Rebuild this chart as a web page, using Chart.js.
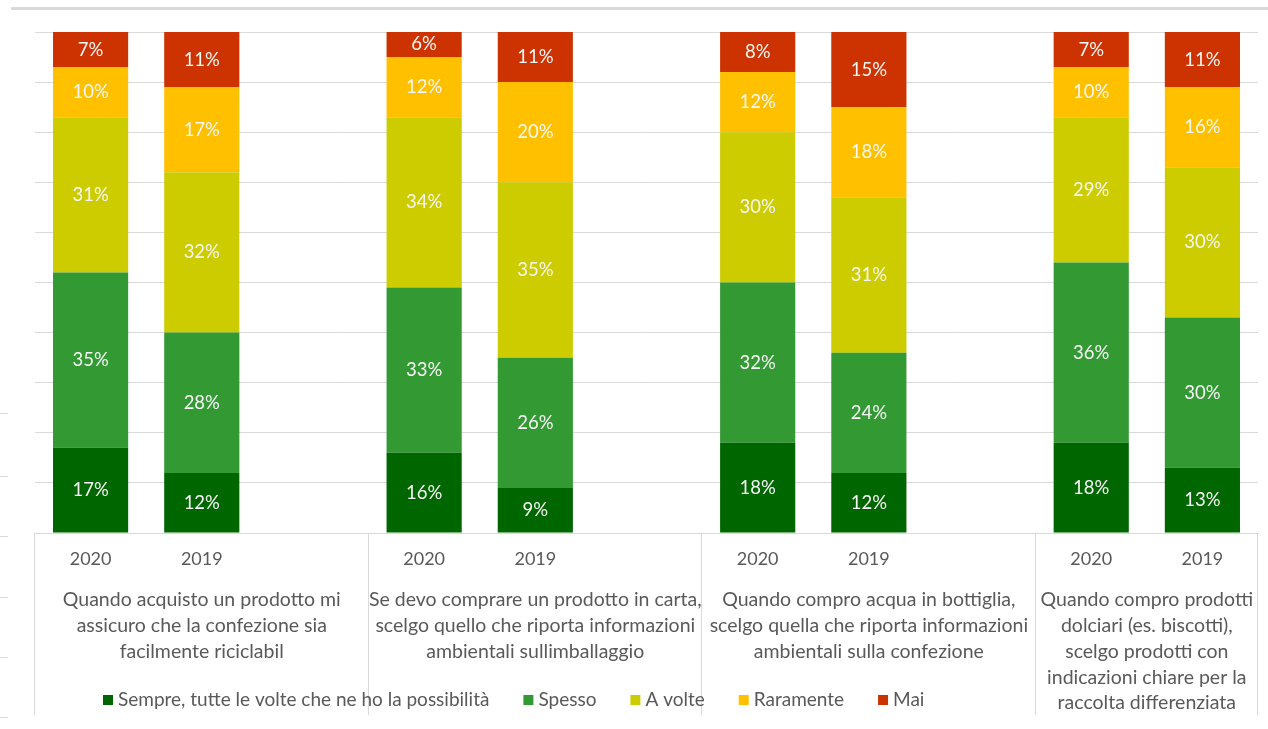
<!DOCTYPE html>
<html>
<head>
<meta charset="utf-8">
<script src="https://cdn.jsdelivr.net/npm/chart.js@4.4.0/dist/chart.umd.min.js"></script>
<style>
  html, body { margin: 0; padding: 0; background: #fff; overflow: hidden; }
  canvas { display: block; }
</style>
</head>
<body>
<canvas id="barChart" width="1268" height="729"></canvas>
<script>
// categorie (anno per ogni colonna, vuoto = spazio tra i gruppi)
const categories = ['2020', '2019', '', '2020', '2019', '', '2020', '2019', '', '2020', '2019'];

const groupLabels = [
  ['Quando acquisto un prodotto mi', 'assicuro che la confezione sia', 'facilmente riciclabil'],
  ['Se devo comprare un prodotto in carta,', 'scelgo quello che riporta informazioni', 'ambientali sullimballaggio'],
  ['Quando compro acqua in bottiglia,', 'scelgo quella che riporta informazioni', 'ambientali sulla confezione'],
  ['Quando compro prodotti', 'dolciari (es. biscotti),', 'scelgo prodotti con', 'indicazioni chiare per la', 'raccolta differenziata']
];

const seriesNames = ['Sempre, tutte le volte che ne ho la possibilità', 'Spesso', 'A volte', 'Raramente', 'Mai'];
const sempre    = [17, 12, null, 16,  9, null, 18, 12, null, 18, 13];
const spesso    = [35, 28, null, 33, 26, null, 32, 24, null, 36, 30];
const aVolte    = [31, 32, null, 34, 35, null, 30, 31, null, 29, 30];
const raramente = [10, 17, null, 12, 20, null, 12, 18, null, 10, 16];
const mai       = [ 7, 11, null,  6, 11, null,  8, 15, null,  7, 11];

const colors = ['#006600', '#339933', '#cccc00', '#ffc000', '#cc3300'];
const FONT = 'Lato, "Open Sans", sans-serif';
const GRID = '#d9d9d9';
const TEXT = '#595959';

const datasets = [sempre, spesso, aVolte, raramente, mai].map((d, i) => ({
  label: seriesNames[i],
  data: d,
  backgroundColor: colors[i],
  borderWidth: 0,
  barPercentage: 0.676,
  categoryPercentage: 1
}));

// percentuali dentro i segmenti
const valueLabels = {
  id: 'valueLabels',
  afterDatasetsDraw(chart) {
    const ctx = chart.ctx;
    const area = chart.chartArea;
    ctx.save();
    ctx.font = '18.5px ' + FONT;
    ctx.fillStyle = '#f7f7f7';
    ctx.textAlign = 'center';
    ctx.textBaseline = 'middle';
    chart.data.datasets.forEach((ds, i) => {
      chart.getDatasetMeta(i).data.forEach((bar, j) => {
        const v = ds.data[j];
        if (v == null) return;
        const top = Math.max(bar.y, area.top);
        const bottom = Math.min(bar.base, area.bottom);
        ctx.fillText(v + '%', bar.x, (top + bottom) / 2);
      });
    });
    ctx.restore();
  }
};

// etichette dei gruppi, separatori e legenda
const groupAxis = {
  id: 'groupAxis',
  beforeDraw(chart) {
    const ctx = chart.ctx;
    ctx.save();
    ctx.strokeStyle = GRID;
    ctx.lineWidth = 3;
    ctx.beginPath();
    ctx.moveTo(11, 8.5);
    ctx.lineTo(1268, 8.5);
    ctx.stroke();
    ctx.lineWidth = 1;
    [413, 476, 536, 597, 657, 717].forEach(y => {
      ctx.beginPath();
      ctx.moveTo(0, y + 0.5);
      ctx.lineTo(8, y + 0.5);
      ctx.stroke();
    });
    ctx.restore();
  },
  afterDraw(chart) {
    const ctx = chart.ctx;
    const x = chart.scales.x;
    const area = chart.chartArea;
    const slot = x.getPixelForValue(1) - x.getPixelForValue(0);
    ctx.save();
    ctx.strokeStyle = GRID;
    ctx.lineWidth = 1;
    const bounds = [];
    groupLabels.forEach((lines, g) => {
      const left = x.getPixelForValue(g * 3) - slot / 2;
      const right = g < groupLabels.length - 1 ? left + slot * 3 : area.right;
      bounds.push(left);
      if (g === groupLabels.length - 1) bounds.push(right);
      ctx.fillStyle = TEXT;
      ctx.font = '19.5px ' + FONT;
      ctx.textAlign = 'center';
      ctx.textBaseline = 'middle';
      lines.forEach((t, k) => ctx.fillText(t, (left + right) / 2, 600 + k * 25.8));
    });
    bounds.forEach(b => {
      const px = Math.round(b) - 0.5;
      ctx.beginPath();
      ctx.moveTo(px, area.bottom);
      ctx.lineTo(px, 715);
      ctx.stroke();
    });

    // legenda
    let lx = 103;
    const ly = 700;
    ctx.font = '19px ' + FONT;
    ctx.textAlign = 'left';
    ctx.textBaseline = 'middle';
    chart.data.datasets.forEach(ds => {
      ctx.fillStyle = ds.backgroundColor;
      ctx.fillRect(lx, ly - 5, 10, 10);
      ctx.fillStyle = TEXT;
      ctx.fillText(ds.label, lx + 15, ly);
      lx += 15 + ctx.measureText(ds.label).width + 34;
    });
    ctx.restore();
  }
};

const barChart = new Chart(document.getElementById('barChart').getContext('2d'), {
  type: 'bar',
  data: { labels: categories, datasets: datasets },
  options: {
    responsive: false,
    devicePixelRatio: 1,
    animation: false,
    layout: { padding: { top: 32, left: 35, right: 10, bottom: 0 } },
    plugins: { legend: { display: false }, tooltip: { enabled: false } },
    scales: {
      x: {
        stacked: true,
        grid: { display: false, drawTicks: false },
        border: { display: true, color: GRID },
        ticks: { color: TEXT, font: { family: FONT, size: 18 }, padding: 15, maxRotation: 0, autoSkip: false },
        afterFit(scale) { scale.height = 196; }
      },
      y: {
        stacked: true,
        min: 0,
        max: 100,
        grid: { color: GRID, drawTicks: false },
        border: { display: false },
        ticks: { display: false, stepSize: 10 },
        afterFit(scale) { scale.width = 0; }
      }
    }
  },
  plugins: [valueLabels, groupAxis]
});
</script>
</body>
</html>
